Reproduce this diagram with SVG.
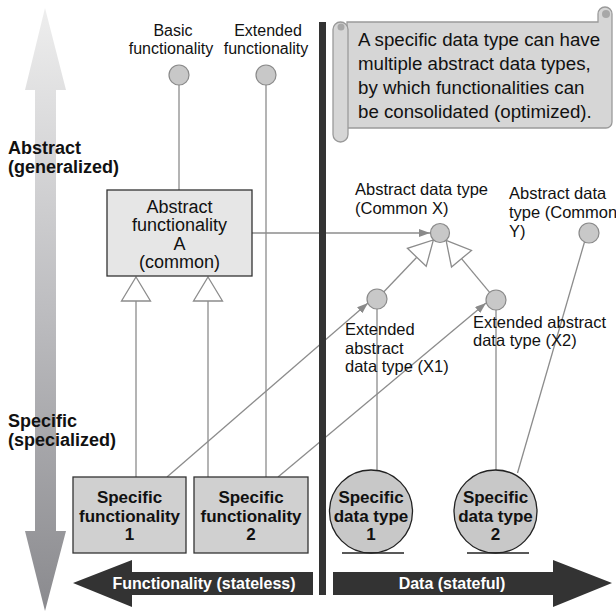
<svg xmlns="http://www.w3.org/2000/svg" width="616" height="612" viewBox="0 0 616 612">
  <defs>
    <linearGradient id="axisGrad" x1="0" y1="0" x2="0" y2="1">
      <stop offset="0" stop-color="#eeeeee"/>
      <stop offset="0.5" stop-color="#bdbdc0"/>
      <stop offset="1" stop-color="#8a8a8e"/>
    </linearGradient>
    <marker id="arrow" viewBox="0 0 11 8" refX="11" refY="4" markerWidth="11" markerHeight="8" markerUnits="userSpaceOnUse" orient="auto">
      <path d="M0,0 L11,4 L0,8 Z" fill="#8a8a8a"/>
    </marker>
    <style>
      text { font-family: "Liberation Sans", Arial, Helvetica, sans-serif; fill: #111; }
      .lbl { font-size: 16px; }
      .dlbl { font-size: 16.5px; }
      .side { font-size: 18px; font-weight: bold; }
      .boxtxt { font-size: 18px; text-anchor: middle; }
      .bold { font-size: 17px; font-weight: bold; text-anchor: middle; }
      .band { font-size: 16px; font-weight: bold; fill: #ffffff; text-anchor: middle; }
      .note { font-size: 18.7px; }
      .mid { text-anchor: middle; }
      .dot { fill: #c8c8c8; stroke: #8a8a8a; stroke-width: 1.2; }
      .conn { stroke: #8c8c8c; stroke-width: 1.3; fill: none; }
      .gen { fill: #ffffff; stroke: #8c8c8c; stroke-width: 1.3; }
      .dark { fill: #333333; }
    </style>
  </defs>

  <!-- vertical abstraction axis (double arrow) -->
  <path d="M45,8 L66,90 L56,90 L56,531 L66,531 L45,611 L25,531 L35,531 L35,90 L25,90 Z" fill="url(#axisGrad)"/>

  <!-- horizontal bands -->
  <path class="dark" d="M73,583 L132,560 L132,572 L313,572 L313,595 L132,595 L132,607 Z"/>
  <text class="band" x="204" y="589">Functionality (stateless)</text>
  <path class="dark" d="M333,572 L553,572 L553,560 L612,583 L553,607 L553,595 L333,595 Z"/>
  <text class="band" x="452" y="589">Data (stateful)</text>

  <!-- axis labels -->
  <text class="side" x="8" y="154">Abstract</text>
  <text class="side" x="8" y="173">(generalized)</text>
  <text class="side" x="8" y="427">Specific</text>
  <text class="side" x="8" y="446">(specialized)</text>

  <!-- note scroll -->
  <g id="note">
    <path d="M347,22 H598 V14 A7,7 0 0 1 612,14 V122 A6,6 0 0 1 606,128 H347 Z" fill="#d6d6d6" stroke="#9a9a9a" stroke-width="1.3"/>
    <circle cx="606" cy="14" r="4" fill="#a8a8a8"/>
    <rect x="333" y="22" width="15" height="120" rx="7.5" fill="#d6d6d6" stroke="#9a9a9a" stroke-width="1.3"/>
    <circle cx="341" cy="27" r="3.5" fill="#a8a8a8"/>
    <text class="note" x="358" y="46">A specific data type can have</text>
    <text class="note" x="358" y="70">multiple abstract data types,</text>
    <text class="note" x="358" y="94">by which functionalities can</text>
    <text class="note" x="358" y="118">be consolidated (optimized).</text>
  </g>

  <!-- connectors -->
  <g id="connectors">
    <line class="conn" x1="179" y1="85" x2="179" y2="190"/>
    <line class="conn" x1="266" y1="85" x2="266" y2="477"/>
    <line class="conn" x1="136" y1="301" x2="136" y2="477"/>
    <line class="conn" x1="208" y1="301" x2="208" y2="477"/>
    <polygon class="gen" points="136,277 150.5,301 121.5,301"/>
    <polygon class="gen" points="208,277 222.5,301 193.5,301"/>
    <line class="conn" x1="252" y1="233" x2="430" y2="233" marker-end="url(#arrow)"/>
    <line class="conn" x1="167" y1="477" x2="368" y2="303" marker-end="url(#arrow)"/>
    <line class="conn" x1="278" y1="477" x2="486" y2="303" marker-end="url(#arrow)"/>
    <line class="conn" x1="383.9" y1="291.8" x2="416.8" y2="257.3"/>
    <polygon class="gen" points="433.4,239.9 426.2,266.3 407.4,248.3"/>
    <line class="conn" x1="489.6" y1="292.3" x2="461.5" y2="258.7"/>
    <polygon class="gen" points="446.1,240.3 471.5,250.4 451.5,267"/>
    <line class="conn" x1="377" y1="309" x2="377" y2="471"/>
    <line class="conn" x1="496" y1="310" x2="496" y2="470"/>
    <line class="conn" x1="517.5" y1="473" x2="584.5" y2="242"/>
  </g>

  <!-- divider between functionality and data -->
  <rect class="dark" x="319" y="22" width="7" height="573"/>

  <g id="basic-functionality">
    <circle class="dot" cx="179" cy="75" r="10"/>
    <text class="lbl mid" x="173" y="36">Basic</text>
    <text class="lbl mid" x="171" y="54">functionality</text>
  </g>
  <g id="extended-functionality">
    <circle class="dot" cx="266" cy="75" r="10"/>
    <text class="lbl mid" x="268" y="36">Extended</text>
    <text class="lbl mid" x="266" y="54">functionality</text>
  </g>

  <g id="abstract-functionality-a">
    <rect x="107" y="190" width="145" height="86" fill="#e6e6e6" stroke="#333" stroke-width="1.3"/>
    <text class="boxtxt" x="179.5" y="213">Abstract</text>
    <text class="boxtxt" x="179.5" y="231.3">functionality</text>
    <text class="boxtxt" x="179.5" y="249.6">A</text>
    <text class="boxtxt" x="179.5" y="268">(common)</text>
  </g>

  <g id="specific-functionality-1">
    <rect x="73" y="477" width="113" height="76" fill="#d0d0d0" stroke="#333" stroke-width="1.3"/>
    <text class="bold" x="129.5" y="503">Specific</text>
    <text class="bold" x="129.5" y="522">functionality</text>
    <text class="bold" x="129.5" y="540">1</text>
  </g>
  <g id="specific-functionality-2">
    <rect x="194" y="477" width="114" height="76" fill="#d0d0d0" stroke="#333" stroke-width="1.3"/>
    <text class="bold" x="251" y="503">Specific</text>
    <text class="bold" x="251" y="522">functionality</text>
    <text class="bold" x="251" y="540">2</text>
  </g>

  <g id="abstract-data-type-x">
    <circle class="dot" cx="440" cy="233" r="9.5"/>
    <text class="dlbl" x="355" y="195">Abstract data type</text>
    <text class="dlbl" x="355" y="214">(Common X)</text>
  </g>
  <g id="abstract-data-type-y">
    <circle class="dot" cx="589" cy="233" r="10"/>
    <text class="dlbl" x="509" y="199">Abstract data</text>
    <text class="dlbl" x="509" y="218">type (Common</text>
    <text class="dlbl" x="509" y="237">Y)</text>
  </g>
  <g id="extended-abstract-x1">
    <circle class="dot" cx="377" cy="299" r="10"/>
    <text class="dlbl" x="345" y="335">Extended</text>
    <text class="dlbl" x="345" y="354">abstract</text>
    <text class="dlbl" x="345" y="372">data type (X1)</text>
  </g>
  <g id="extended-abstract-x2">
    <circle class="dot" cx="496" cy="300" r="10"/>
    <text class="dlbl" x="473" y="328">Extended abstract</text>
    <text class="dlbl" x="473" y="346">data type (X2)</text>
  </g>

  <g id="specific-data-type-1">
    <circle cx="371" cy="511.5" r="41.5" fill="#c8c8c8" stroke="#222" stroke-width="1.3"/>
    <line x1="342" y1="553" x2="404" y2="553" stroke="#222" stroke-width="1.3"/>
    <text class="bold" x="371" y="503">Specific</text>
    <text class="bold" x="371" y="522">data type</text>
    <text class="bold" x="371" y="540">1</text>
  </g>
  <g id="specific-data-type-2">
    <circle cx="495.5" cy="511.5" r="41.5" fill="#c8c8c8" stroke="#222" stroke-width="1.3"/>
    <line x1="467" y1="553" x2="529" y2="553" stroke="#222" stroke-width="1.3"/>
    <text class="bold" x="495.5" y="503">Specific</text>
    <text class="bold" x="495.5" y="522">data type</text>
    <text class="bold" x="495.5" y="540">2</text>
  </g>
</svg>
